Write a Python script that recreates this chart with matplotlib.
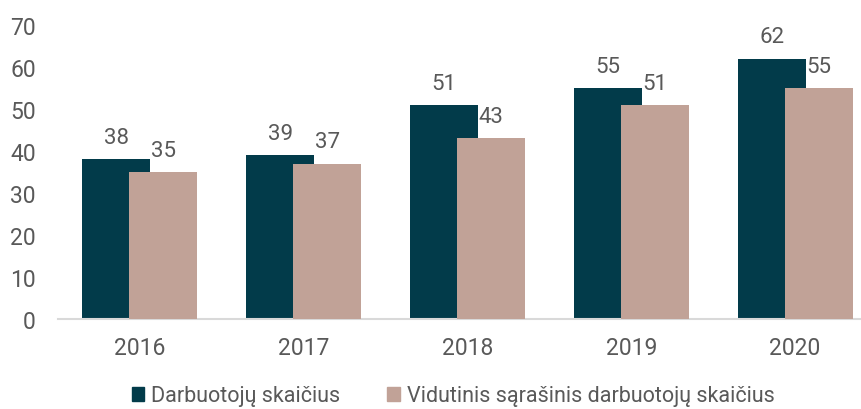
import numpy as np
import matplotlib.pyplot as plt
from matplotlib.patches import Patch

years = ["2016", "2017", "2018", "2019", "2020"]
darbuotoju = [38, 39, 51, 55, 62]
vidutinis = [35, 37, 43, 51, 55]
series_names = ["Darbuotojų skaičius", "Vidutinis sąrašinis darbuotojų skaičius"]
y_ticks = [0, 10, 20, 30, 40, 50, 60, 70]

DARK = "#023b4a"
PINK = "#c1a297"
TEXT = "#595959"

plt.rcParams['font.family'] = ['Roboto', 'DejaVu Sans']

fig = plt.figure(figsize=(8.62, 4.10), dpi=100)
ax = fig.add_axes([58 / 862, 90 / 410, 819 / 862, 294 / 410])

x = np.arange(len(years))
w = 0.415
off = 0.1435
b1 = ax.bar(x - off, darbuotoju, w, color=DARK, zorder=2)
b2 = ax.bar(x + off, vidutinis, w, color=PINK, zorder=3)

for bars, vals in ((b1, darbuotoju), (b2, vidutinis)):
    for r, v in zip(bars, vals):
        ax.annotate(str(v), (r.get_x() + r.get_width() / 2, v), xytext=(0, 8),
                    textcoords="offset points", ha="center", va="bottom",
                    fontsize=16, color=TEXT)

ax.set_xlim(-0.5, 4.5)
ax.set_ylim(0, 70)
ax.set_yticks(y_ticks)
ax.set_xticks(x)
ax.set_xticklabels(years)
ax.tick_params(axis="both", length=0, labelsize=16.5, labelcolor=TEXT)
ax.tick_params(axis="y", pad=16)
ax.tick_params(axis="x", pad=12)
for s in ("top", "right", "left"):
    ax.spines[s].set_visible(False)
ax.spines["bottom"].set_color("#d9d9d9")
ax.spines["bottom"].set_linewidth(1.5)

handles = [Patch(color=DARK), Patch(color=PINK)]
fig.legend(handles, series_names, loc="center", bbox_to_anchor=(453 / 862, 13 / 410),
           ncol=2, frameon=False, fontsize=15.5, labelcolor=TEXT,
           handlelength=0.6, handleheight=0.6, handletextpad=0.3, columnspacing=2.2)

fig.savefig("out.png", dpi=100)
